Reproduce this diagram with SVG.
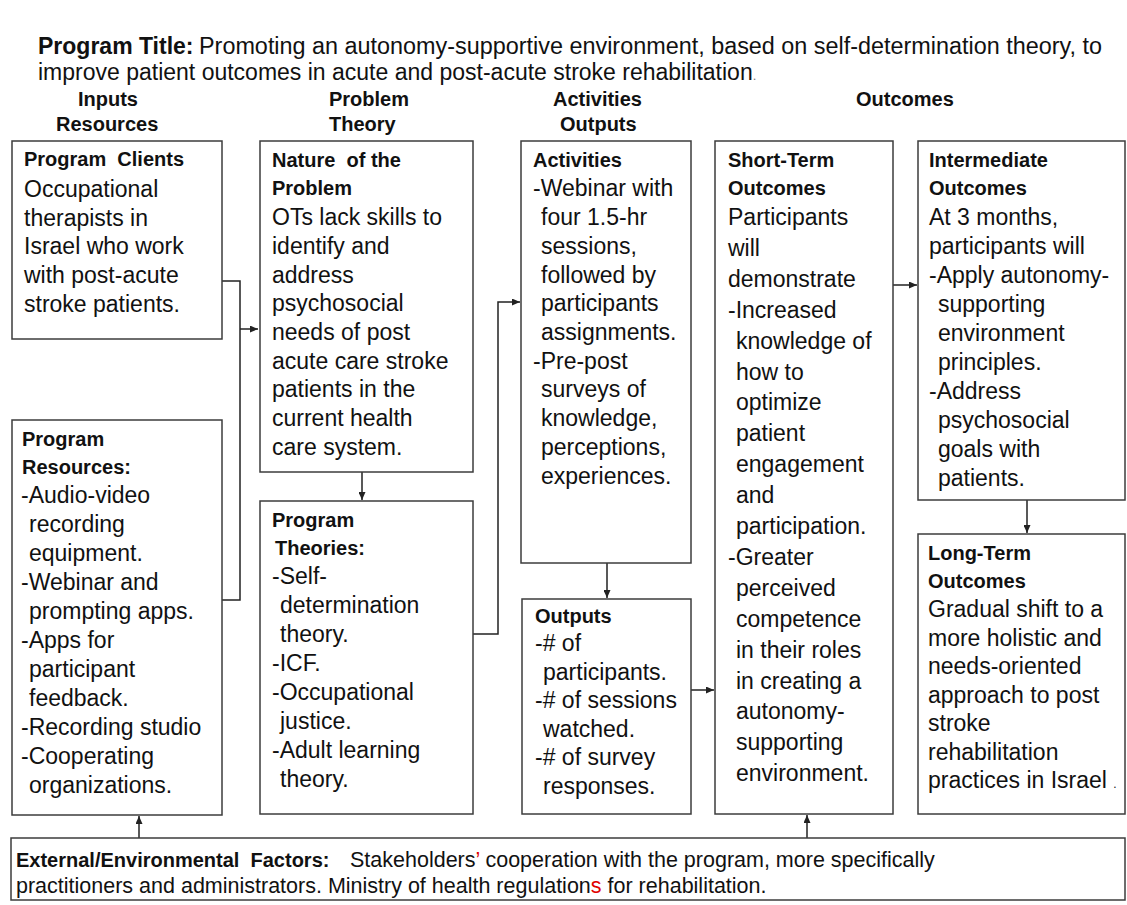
<svg xmlns="http://www.w3.org/2000/svg" width="1127" height="905" viewBox="0 0 1127 905">
<defs>
<style>
.box{fill:#fff;stroke:#3c3c3c;stroke-width:1.5}
.h{font-family:"Liberation Sans",Arial,sans-serif;font-weight:bold;font-size:20px;fill:#111}
.b{font-family:"Liberation Sans",Arial,sans-serif;font-size:23px;fill:#111}
.hd{font-family:"Liberation Sans",Arial,sans-serif;font-weight:bold;font-size:20px;fill:#111}
.t{font-family:"Liberation Sans",Arial,sans-serif;font-size:23px;fill:#111}
.tb{font-family:"Liberation Sans",Arial,sans-serif;font-size:23px;font-weight:bold;fill:#111}
.eb{font-family:"Liberation Sans",Arial,sans-serif;font-size:20px;font-weight:bold;fill:#111}
.e{font-family:"Liberation Sans",Arial,sans-serif;font-size:21.5px;fill:#111}
.red{fill:#e00000}
.conn{fill:none;stroke:#222;stroke-width:1.5}
</style>
<marker id="arr" viewBox="0 0 8 7" refX="8" refY="3.5" markerWidth="8" markerHeight="7" markerUnits="userSpaceOnUse" orient="auto">
<path d="M0,0 L8,3.5 L0,7 z" fill="#222"/>
</marker>
</defs>
<rect width="1127" height="905" fill="#fff"/>

<g id="title">
<text class="tb" x="38" y="54">Program Title:</text>
<text class="t" x="199" y="54" textLength="903" lengthAdjust="spacingAndGlyphs">Promoting an autonomy-supportive environment, based on self-determination theory, to</text>
<text class="t" x="38" y="80">improve patient outcomes in acute and post-acute stroke rehabilitation<tspan font-size="13" fill="#777">.</tspan></text>
</g>

<g id="headers">
<text class="hd" x="78" y="106">Inputs</text>
<text class="hd" x="56" y="131">Resources</text>
<text class="hd" x="329" y="106">Problem</text>
<text class="hd" x="329" y="131">Theory</text>
<text class="hd" x="553" y="106">Activities</text>
<text class="hd" x="560" y="131">Outputs</text>
<text class="hd" x="856" y="106">Outcomes</text>
</g>

<g id="connectors">
<path class="conn" d="M222,281 H240 V600 H222"/>
<path class="conn" d="M240,329 H258" marker-end="url(#arr)"/>
<path class="conn" d="M362,472 V500" marker-end="url(#arr)"/>
<path class="conn" d="M473,634 H498 V302 H520" marker-end="url(#arr)"/>
<path class="conn" d="M607,563 V598" marker-end="url(#arr)"/>
<path class="conn" d="M691,690 H714" marker-end="url(#arr)"/>
<path class="conn" d="M893,285 H917" marker-end="url(#arr)"/>
<path class="conn" d="M1027,500 V533" marker-end="url(#arr)"/>
<path class="conn" d="M139,838 V816" marker-end="url(#arr)"/>
<path class="conn" d="M807,838 V815" marker-end="url(#arr)"/>
</g>

<g id="program-clients">
<rect class="box" x="12" y="141" width="210" height="198"/>
<text class="h" x="24" y="166" xml:space="preserve">Program  Clients</text>
<text class="b" x="24" y="197">Occupational</text>
<text class="b" x="24" y="226">therapists in</text>
<text class="b" x="24" y="254">Israel who work</text>
<text class="b" x="24" y="283">with post-acute</text>
<text class="b" x="24" y="312">stroke patients.</text>
</g>

<g id="program-resources">
<rect class="box" x="12" y="420" width="210" height="395"/>
<text class="h" x="22" y="446">Program</text>
<text class="h" x="22" y="474">Resources:</text>
<text class="b" x="21" y="503">-Audio-video</text>
<text class="b" x="29" y="532">recording</text>
<text class="b" x="29" y="561">equipment.</text>
<text class="b" x="21" y="590">-Webinar and</text>
<text class="b" x="29" y="619">prompting apps.</text>
<text class="b" x="21" y="648">-Apps for</text>
<text class="b" x="29" y="677">participant</text>
<text class="b" x="29" y="706">feedback.</text>
<text class="b" x="21" y="735">-Recording studio</text>
<text class="b" x="21" y="764">-Cooperating</text>
<text class="b" x="29" y="793">organizations.</text>
</g>

<g id="nature-of-problem">
<rect class="box" x="260" y="141" width="213" height="331"/>
<text class="h" x="272" y="167" xml:space="preserve">Nature  of the</text>
<text class="h" x="272" y="195">Problem</text>
<text class="b" x="272" y="225">OTs lack skills to</text>
<text class="b" x="272" y="254">identify and</text>
<text class="b" x="272" y="283">address</text>
<text class="b" x="272" y="311">psychosocial</text>
<text class="b" x="272" y="340">needs of post</text>
<text class="b" x="272" y="369">acute care stroke</text>
<text class="b" x="272" y="397">patients in the</text>
<text class="b" x="272" y="426">current health</text>
<text class="b" x="272" y="455">care system.</text>
</g>

<g id="program-theories">
<rect class="box" x="260" y="501" width="213" height="313"/>
<text class="h" x="272" y="527">Program</text>
<text class="h" x="275" y="555">Theories:</text>
<text class="b" x="272" y="584">-Self-</text>
<text class="b" x="280" y="613">determination</text>
<text class="b" x="280" y="642">theory.</text>
<text class="b" x="272" y="671">-ICF.</text>
<text class="b" x="272" y="700">-Occupational</text>
<text class="b" x="280" y="729">justice.</text>
<text class="b" x="272" y="758">-Adult learning</text>
<text class="b" x="280" y="787">theory.</text>
</g>

<g id="activities">
<rect class="box" x="521" y="141" width="170" height="422"/>
<text class="h" x="533" y="167">Activities</text>
<text class="b" x="533" y="196">-Webinar with</text>
<text class="b" x="541" y="225">four 1.5-hr</text>
<text class="b" x="541" y="254">sessions,</text>
<text class="b" x="541" y="283">followed by</text>
<text class="b" x="541" y="311">participants</text>
<text class="b" x="541" y="340">assignments.</text>
<text class="b" x="533" y="369">-Pre-post</text>
<text class="b" x="541" y="397">surveys of</text>
<text class="b" x="541" y="426">knowledge,</text>
<text class="b" x="541" y="455">perceptions,</text>
<text class="b" x="541" y="484">experiences.</text>
</g>

<g id="outputs">
<rect class="box" x="522" y="599" width="169" height="215"/>
<text class="h" x="535" y="623">Outputs</text>
<text class="b" x="535" y="651">-# of</text>
<text class="b" x="543" y="680">participants.</text>
<text class="b" x="535" y="708">-# of sessions</text>
<text class="b" x="543" y="737">watched.</text>
<text class="b" x="535" y="765">-# of survey</text>
<text class="b" x="543" y="794">responses.</text>
</g>

<g id="short-term-outcomes">
<rect class="box" x="715" y="141" width="178" height="673"/>
<text class="h" x="728" y="167">Short-Term</text>
<text class="h" x="728" y="195">Outcomes</text>
<text class="b" x="728" y="225">Participants</text>
<text class="b" x="728" y="256">will</text>
<text class="b" x="728" y="287">demonstrate</text>
<text class="b" x="728" y="318">-Increased</text>
<text class="b" x="736" y="349">knowledge of</text>
<text class="b" x="736" y="380">how to</text>
<text class="b" x="736" y="410">optimize</text>
<text class="b" x="736" y="441">patient</text>
<text class="b" x="736" y="472">engagement</text>
<text class="b" x="736" y="503">and</text>
<text class="b" x="736" y="534">participation.</text>
<text class="b" x="728" y="565">-Greater</text>
<text class="b" x="736" y="596">perceived</text>
<text class="b" x="736" y="627">competence</text>
<text class="b" x="736" y="658">in their roles</text>
<text class="b" x="736" y="689">in creating a</text>
<text class="b" x="736" y="719">autonomy-</text>
<text class="b" x="736" y="750">supporting</text>
<text class="b" x="736" y="781">environment.</text>
</g>

<g id="intermediate-outcomes">
<rect class="box" x="918" y="141" width="207" height="359"/>
<text class="h" x="929" y="167">Intermediate</text>
<text class="h" x="929" y="195">Outcomes</text>
<text class="b" x="929" y="225">At 3 months,</text>
<text class="b" x="929" y="254">participants will</text>
<text class="b" x="929" y="283">-Apply autonomy-</text>
<text class="b" x="938" y="312">supporting</text>
<text class="b" x="938" y="341">environment</text>
<text class="b" x="938" y="370">principles.</text>
<text class="b" x="929" y="399">-Address</text>
<text class="b" x="938" y="428">psychosocial</text>
<text class="b" x="938" y="457">goals with</text>
<text class="b" x="938" y="486">patients.</text>
</g>

<g id="long-term-outcomes">
<rect class="box" x="918" y="534" width="207" height="280"/>
<text class="h" x="928" y="560">Long-Term</text>
<text class="h" x="928" y="588">Outcomes</text>
<text class="b" x="928" y="617">Gradual shift to a</text>
<text class="b" x="928" y="646">more holistic and</text>
<text class="b" x="928" y="674">needs-oriented</text>
<text class="b" x="928" y="703">approach to post</text>
<text class="b" x="928" y="731">stroke</text>
<text class="b" x="928" y="760">rehabilitation</text>
<text class="b" x="928" y="788">practices in Israel <tspan font-size="12">.</tspan></text>
</g>

<g id="external-factors">
<rect class="box" x="11" y="838" width="1114" height="62"/>
<text class="eb" x="16" y="867" xml:space="preserve">External/Environmental  Factors:</text>
<text class="e" x="350" y="867">Stakeholders<tspan class="red">’</tspan> cooperation with the program, more specifically</text>
<text class="e" x="16" y="893">practitioners and administrators. Ministry of health regulation<tspan class="red">s</tspan> for rehabilitation.</text>
</g>
</svg>
